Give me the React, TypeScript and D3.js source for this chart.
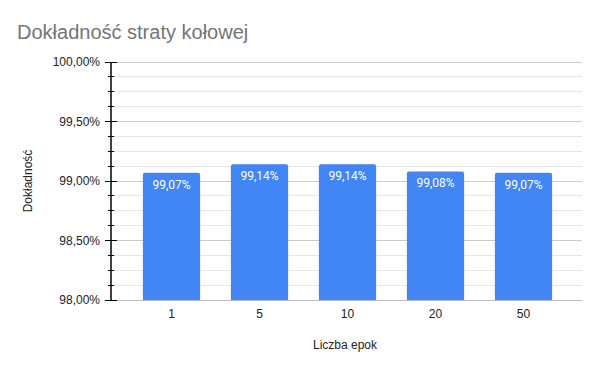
import React from "react";
import * as d3 from "d3";

// epoch counts and accuracy (in %)
const epochs = ["1", "5", "10", "20", "50"];
const accuracy = [99.07, 99.14, 99.14, 99.08, 99.07];
const majorTicks = [98, 98.5, 99, 99.5, 100];
const minorTicks = d3.range(98, 100.001, 0.125);

const sizes = { width: 600, height: 371 };

const fmt = (v: number) => v.toFixed(2).replace(".", ",") + "%";

export default function App() {
  const x = d3
    .scaleBand()
    .domain(epochs)
    .range([127.5, 567.5])
    .paddingInner(0.35)
    .paddingOuter(0.175);

  const y = d3.scaleLinear().domain([98, 100]).range([300, 62]);

  const axisX = 111;
  const gridRight = 582;
  const font = "Arial, 'Liberation Sans', sans-serif";
  const labelFont = "Roboto, Arial, sans-serif";

  return (
    <svg
      width={sizes.width}
      height={sizes.height}
      style={{ position: "absolute", left: 0, top: 0, background: "#fff" }}
    >
      <rect width={sizes.width} height={sizes.height} fill="#fff" />
      <text x={17} y={39} fontFamily={font} fontSize={20} fill="#757575">
        Dokładność straty kołowej
      </text>

      {/* gridlines */}
      {minorTicks.map((t, i) => (
        <line
          key={"g" + i}
          x1={axisX}
          x2={gridRight}
          y1={y(t)}
          y2={y(t)}
          stroke={i % 4 === 0 ? "#cccccc" : "#e6e6e6"}
          strokeWidth={1}
          shapeRendering="crispEdges"
        />
      ))}

      {/* bars */}
      {epochs.map((e, i) => {
        const bx = x(e)!;
        const w = x.bandwidth();
        const top = y(accuracy[i]);
        const bottom = y(98);
        const r = 2;
        const path = `M${bx},${bottom}V${top + r}Q${bx},${top} ${bx + r},${top}H${bx + w - r}Q${bx + w},${top} ${bx + w},${top + r}V${bottom}Z`;
        return (
          <g key={e}>
            <path d={path} fill="#4285f4" />
            <text
              x={bx + w / 2}
              y={top + 16}
              textAnchor="middle"
              fontFamily={labelFont}
              fontSize={12}
              fill="#ffffff"
            >
              {fmt(accuracy[i])}
            </text>
            <text
              x={bx + w / 2}
              y={318}
              textAnchor="middle"
              fontFamily={font}
              fontSize={12}
              fill="#222"
            >
              {e}
            </text>
          </g>
        );
      })}

      {/* y axis */}
      <line x1={axisX} x2={gridRight} y1={y(98)} y2={y(98)} stroke="#bdbdbd" strokeWidth={1} shapeRendering="crispEdges" />
      <line x1={axisX} x2={axisX} y1={y(100)} y2={y(98)} stroke="#000" strokeWidth={1.5} />
      {minorTicks.map((t, i) => {
        const major = i % 4 === 0;
        return (
          <line
            key={"t" + i}
            x1={major ? 105 : 108}
            x2={major ? 117 : 114}
            y1={y(t)}
            y2={y(t)}
            stroke="#000"
            strokeWidth={1}
            shapeRendering="crispEdges"
          />
        );
      })}
      {majorTicks.map((t) => (
        <text
          key={t}
          x={100}
          y={y(t) + 4}
          textAnchor="end"
          fontFamily={font}
          fontSize={12}
          fill="#222"
        >
          {fmt(t)}
        </text>
      ))}

      <text
        transform={`translate(32,181) rotate(-90)`}
        textAnchor="middle"
        fontFamily={font}
        fontSize={12}
        fill="#222"
      >
        Dokładność
      </text>
      <text x={345} y={349} textAnchor="middle" fontFamily={font} fontSize={12} fill="#222">
        Liczba epok
      </text>
    </svg>
  );
}
